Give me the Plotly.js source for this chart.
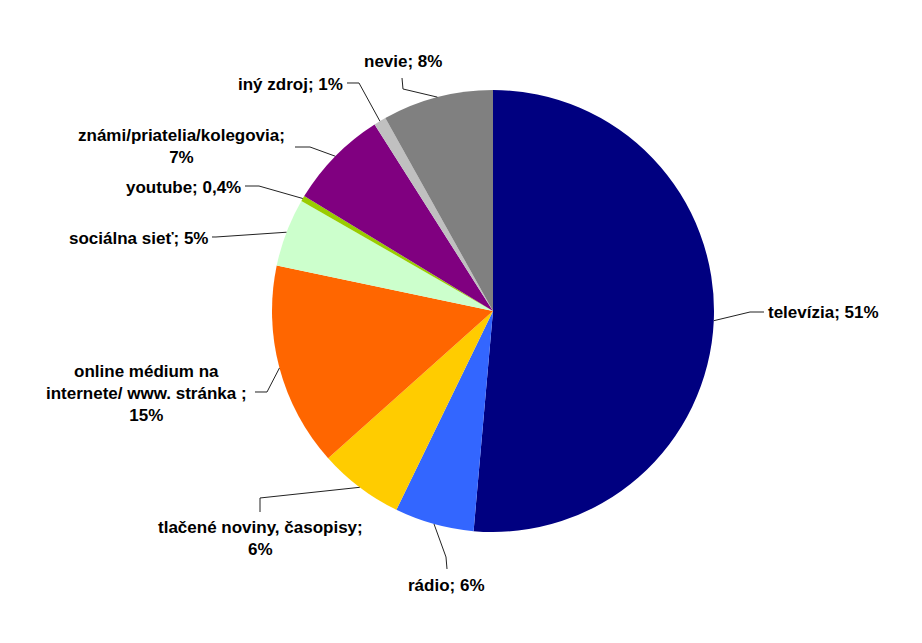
<!DOCTYPE html>
<html>
<head>
<meta charset="utf-8">
<script src="https://cdn.plot.ly/plotly-3.0.1.min.js"></script>
<style>html,body{margin:0;padding:0;background:#fff;}#chart{width:922px;height:643px;}</style>
</head>
<body>
<div id="chart"></div>
<script>
// Data (clockwise from 12 o'clock)
const categories = ["televízia", "rádio", "tlačené noviny, časopisy", "online médium na internete/ www. stránka ", "sociálna sieť", "youtube", "známi/priatelia/kolegovia", "iný zdroj", "nevie"];
const values = [51.4, 5.8, 6.2, 14.9, 5.0, 0.4, 7.3, 0.9, 8.1];
const pctLabels = ["51%", "6%", "6%", "15%", "5%", "0,4%", "7%", "1%", "8%"];
const colors = ["#000080", "#3366FF", "#FFCC00", "#FF6600", "#CCFFCC", "#99CC00", "#800080", "#C0C0C0", "#808080"];

// Layout geometry (pixels)
const W = 922, H = 643;
const CX = 493, CY = 311, R = 221;
const FONT = {family: "Liberation Sans, Arial, sans-serif", size: 17, color: "#000", weight: "bold"};

// Label placement: displayed text lines, label center, and leader polyline start points
const labelSpecs = [
  {lines: ["televízia; " + pctLabels[0]], x: 766, y: 312, xanchor: "left", path: [[764,312],[750,312]]},
  {lines: ["rádio; " + pctLabels[1]], x: 446, y: 585, xanchor: "center", path: [[447,569],[446,557]]},
  {lines: ["tlačené noviny, časopisy;", pctLabels[2]], x: 260, y: 538, xanchor: "center", path: [[260,512],[260,498]]},
  {lines: ["online médium na", "internete/ www. stránka ;", pctLabels[3]], x: 146, y: 393, xanchor: "center", path: [[255,392],[267,392]]},
  {lines: ["sociálna sieť; " + pctLabels[4]], x: 211, y: 238, xanchor: "right", path: [[212,237],[216,237]]},
  {lines: ["youtube; " + pctLabels[5]], x: 243, y: 187, xanchor: "right", path: [[245,186],[259,186]]},
  {lines: ["známi/priatelia/kolegovia;", pctLabels[6]], x: 181, y: 146, xanchor: "center", path: [[295,147],[310,147]]},
  {lines: ["iný zdroj; " + pctLabels[7]], x: 345, y: 85, xanchor: "right", path: [[347,83],[359,83]]},
  {lines: ["nevie; " + pctLabels[8]], x: 403, y: 61, xanchor: "center", path: [[402,78],[403,89]]}
];

const px = x => x / W;
const py = y => 1 - y / H;

const total = values.reduce((a, b) => a + b, 0);
let cum = 0;
const annotations = [];
const shapes = [];
values.forEach((v, i) => {
  const mid = (cum + v / 2) / total * 2 * Math.PI;
  cum += v;
  const ex = CX + R * Math.sin(mid);
  const ey = CY - R * Math.cos(mid);
  const spec = labelSpecs[i];
  annotations.push({
    xref: "paper", yref: "paper",
    x: px(spec.x), y: py(spec.y),
    xanchor: spec.xanchor, yanchor: "middle",
    text: spec.lines.map(s => "<b>" + s + "</b>").join("<br>"),
    showarrow: false,
    align: "center",
    font: FONT
  });
  const pts = spec.path.concat([[ex, ey]]);
  const d = pts.map((p, k) => (k === 0 ? "M" : "L") + px(p[0]).toFixed(5) + "," + py(p[1]).toFixed(5)).join(" ");
  shapes.push({type: "path", xref: "paper", yref: "paper", path: d, line: {color: "#222", width: 1}});
});

const trace = {
  type: "pie",
  labels: categories,
  values: values,
  sort: false,
  direction: "clockwise",
  rotation: 0,
  marker: {colors: colors, line: {width: 0}},
  textinfo: "none",
  hoverinfo: "label+percent",
  showlegend: false,
  domain: {x: [px(CX - R), px(CX + R)], y: [py(CY + R), py(CY - R)]}
};

const layout = {
  width: W, height: H,
  margin: {l: 0, r: 0, t: 0, b: 0},
  paper_bgcolor: "#fff",
  showlegend: false,
  annotations: annotations,
  shapes: shapes,
  font: FONT
};

Plotly.newPlot("chart", [trace], layout, {displayModeBar: false, staticPlot: true});
</script>
</body>
</html>
